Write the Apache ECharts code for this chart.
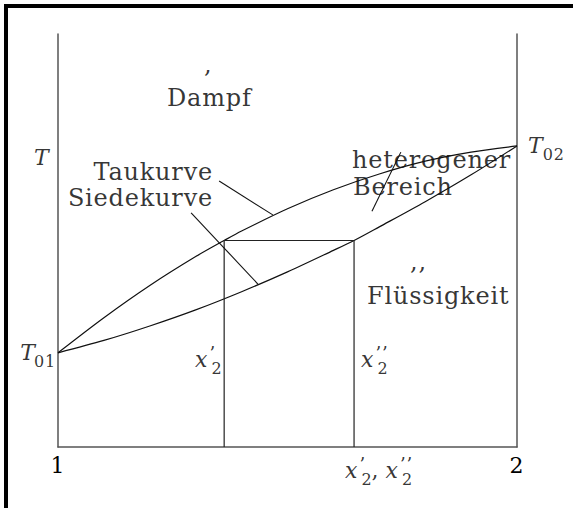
<!DOCTYPE html>
<html>
<head>
<meta charset="utf-8">
<script src="https://cdn.jsdelivr.net/npm/echarts@6/dist/echarts.min.js"></script>
<style>
  html, body { margin: 0; padding: 0; background: #fff; }
  #chart { width: 573px; height: 508px; }
  #chart svg text { letter-spacing: 0.8px; }
</style>
</head>
<body>
<div id="chart"></div>
<script>
// Boiling diagram of a binary mixture: temperature vs. composition
const dewX  = [1.0, 1.1, 1.2, 1.3, 1.362, 1.4, 1.5, 1.6, 1.7, 1.8, 1.9, 2.0];
const dewT  = [22.8, 31.3, 39.1, 46.1, 50.0, 52.3, 57.7, 62.3, 66.1, 69.2, 71.4, 72.9];
const boilX = [1.0, 1.1, 1.2, 1.3, 1.4, 1.5, 1.6, 1.645, 1.7, 1.8, 1.9, 2.0];
const boilT = [22.8, 25.8, 29.3, 33.2, 37.6, 42.4, 47.6, 50.0, 53.3, 59.4, 65.9, 72.9];
const tieT = 50.0;          // temperature of the tie line
const x2Vapour = 1.362;     // x2'
const x2Liquid = 1.645;     // x2''
const xTicks = [1, 2];
const tickLabels = ['1', '2'];

// leader lines from the curve names to the curves
const leaders = [
  [[1.351, 64.4], [1.468, 56.2]],   // Taukurve
  [[1.290, 56.7], [1.436, 39.4]],   // Siedekurve
  [[1.747, 71.4], [1.684, 57.1]]    // heterogener Bereich
];

const FONT = 'DejaVu Serif';
const INK = '#000';
const rich = {
  i:   { fontFamily: FONT, fontStyle: 'italic', fontSize: 22, color: INK, verticalAlign: 'top' },
  n:   { fontFamily: FONT, fontSize: 22, color: INK, verticalAlign: 'top' },
  sub: { fontFamily: FONT, fontSize: 16, color: INK, verticalAlign: 'top', padding: [12, 0, 0, 0] },
  // prime set above the following subscript: a narrow box lets the two share a column
  pr:  { fontFamily: FONT, fontSize: 18, color: INK, verticalAlign: 'top', width: 2, padding: [-4, 0, 0, 2] }
};

// text annotations, anchored in data coordinates
const notes = [
  { at: [0.9477, 70.0], text: '{i|T}', align: 'left' },
  { at: [1.3180, 92.5], text: ',', align: 'left' },
  { at: [1.2375, 84.5], text: 'Dampf', align: 'left' },
  { at: [1.6405, 69.5], text: 'heterogener', align: 'left' },
  { at: [1.6427, 63.0], text: 'Bereich', align: 'left' },
  { at: [1.3377, 66.6], text: 'Taukurve', align: 'right' },
  { at: [1.3377, 60.3], text: 'Siedekurve', align: 'right' },
  { at: [1.7669, 44.8], text: ',,', align: 'left' },
  { at: [1.6732, 36.6], text: 'Flüssigkeit', align: 'left' },
  { at: [2.024, 72.3], text: '{i|T}{sub|02}', align: 'left' },
  { at: [0.9956, 22.1], text: '{i|T}{sub|01}', align: 'right' },
  { at: [1.2985, 20.5], text: '{i|x}{pr|’}{sub|2}', align: 'left' },
  { at: [1.6601, 20.5], text: '{i|x}{pr|’’}{sub|2}', align: 'left' },
  { at: [1.6253, -6.5], text: '{i|x}{pr|’}{sub|2}{n|, }{i|x}{pr|’’}{sub|2}', align: 'left' }
];

const zip = (xs, ys) => xs.map((x, k) => [x, ys[k]]);

const chart = echarts.init(document.getElementById('chart'), null, { renderer: 'svg' });

const axisLineStyle = { color: '#555', width: 1.5 };
const yAxisBase = {
  type: 'value', min: 0, max: 100,
  axisLine: { show: true, lineStyle: axisLineStyle },
  axisTick: { show: false }, axisLabel: { show: false }, splitLine: { show: false }
};

chart.setOption({
  animation: false,
  backgroundColor: '#fff',
  grid: { left: 58, right: 56, top: 34, bottom: 61 },
  xAxis: {
    type: 'value', min: 1, max: 2, interval: 1,
    axisLine: { lineStyle: axisLineStyle },
    axisTick: { show: false }, splitLine: { show: false },
    axisLabel: {
      margin: 7, fontFamily: FONT, fontSize: 22, color: INK,
      formatter: v => tickLabels[xTicks.indexOf(v)] || ''
    }
  },
  yAxis: [yAxisBase, Object.assign({}, yAxisBase, { position: 'right' })],
  graphic: [{
    type: 'rect', silent: true,
    shape: { x: 6, y: 6, width: 800, height: 800 },
    style: { fill: 'none', stroke: '#000', lineWidth: 4 }
  }],
  series: [
    {
      name: 'Taukurve', type: 'line', data: zip(dewX, dewT),
      smooth: 0.3, showSymbol: false,
      lineStyle: { color: '#111', width: 1.2 }
    },
    {
      name: 'Siedekurve', type: 'line', data: zip(boilX, boilT),
      smooth: 0.3, showSymbol: false,
      lineStyle: { color: '#111', width: 1.2 }
    },
    {
      name: 'Konode', type: 'line',
      data: [[x2Vapour, 0], [x2Vapour, tieT], [x2Liquid, tieT], [x2Liquid, 0]],
      showSymbol: false, lineStyle: { color: '#222', width: 1.2 }
    },
    ...leaders.map(seg => ({
      type: 'line', data: seg, showSymbol: false,
      lineStyle: { color: '#111', width: 1.1 }
    })),
    {
      type: 'scatter', symbolSize: 0, clip: false, silent: true,
      data: notes.map(n => ({
        value: n.at,
        label: { formatter: n.text, align: n.align }
      })),
      label: {
        show: true, position: 'inside', verticalAlign: 'middle',
        fontFamily: FONT, fontSize: 24, color: INK, rich: rich
      }
    }
  ]
});
</script>
</body>
</html>
